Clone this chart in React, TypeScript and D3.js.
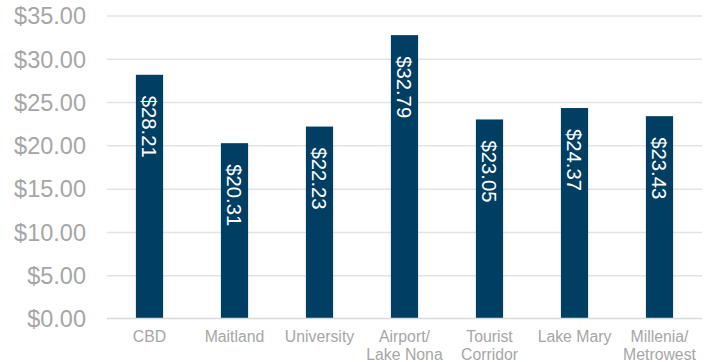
import React from "react";
import * as d3 from "d3";

const categories: string[][] = [
  ["CBD"],
  ["Maitland"],
  ["University"],
  ["Airport/", "Lake Nona"],
  ["Tourist", "Corridor"],
  ["Lake Mary"],
  ["Millenia/", "Metrowest"],
];
const values: number[] = [28.21, 20.31, 22.23, 32.79, 23.05, 24.37, 23.43];
const yTicks: number[] = [0, 5, 10, 15, 20, 25, 30, 35];

const W = 709;
const H = 362;
const left = 107;
const right = 702;
const top = 16;
const bottom = 319;

export default function App() {
  const keys = categories.map((c) => c.join(" "));
  const x = d3.scaleBand<string>().domain(keys).range([left, right]).paddingInner(0.68).paddingOuter(0.34);
  const y = d3.scaleLinear().domain([0, 35]).range([bottom, top]);
  const fmt = (v: number) => "$" + d3.format(".2f")(v);
  const font = "'Liberation Sans', Arial, sans-serif";

  return (
    <svg width={W} height={H} style={{ position: "absolute", left: 0, top: 0, display: "block" }} fontFamily={font}>
      <rect width={W} height={H} fill="#ffffff" />
      {yTicks.map((t) => (
        <g key={t}>
          {t > 0 && (
            <line x1={left} x2={right} y1={y(t)} y2={y(t)} stroke="#e3e3e3" strokeWidth={1.5} />
          )}
          <text x={86} y={y(t)} dy="0.35em" textAnchor="end" fontSize={23.5} fill="#a6a6a6">
            {fmt(t)}
          </text>
        </g>
      ))}
      {values.map((v, i) => {
        const k = keys[i];
        const bx = x(k)!;
        const cx = bx + x.bandwidth() / 2;
        return (
          <g key={k}>
            <rect x={bx} y={y(v)} width={x.bandwidth()} height={y(0) - y(v)} fill="#003f63" />
            <text
              transform={`translate(${cx},${y(v) + 21}) rotate(90)`}
              dy="0.35em"
              textAnchor="start"
              fontSize={20.3}
              fill="#ffffff"
            >
              {fmt(v)}
            </text>
          </g>
        );
      })}
      <line x1={left} x2={right} y1={bottom - 0.5} y2={bottom - 0.5} stroke="#d9d9d9" strokeWidth={1.5} />
      {categories.map((lines, i) => {
        const cx = x(keys[i])! + x.bandwidth() / 2;
        return (
          <text key={i} x={cx} y={342} textAnchor="middle" fontSize={15.8} fill="#a6a6a6">
            {lines.map((l, j) => (
              <tspan key={j} x={cx} dy={j === 0 ? 0 : 18}>
                {l}
              </tspan>
            ))}
          </text>
        );
      })}
    </svg>
  );
}
